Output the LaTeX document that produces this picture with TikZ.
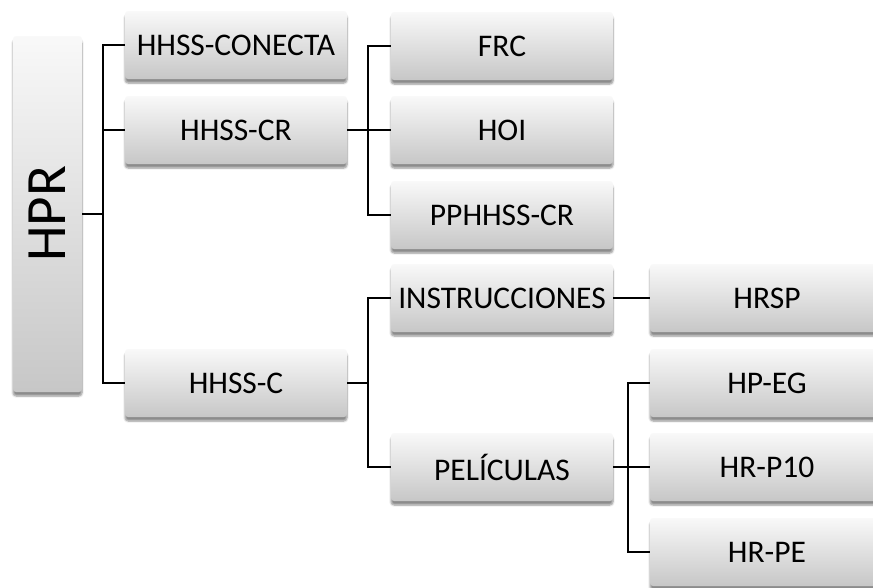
\documentclass[tikz,border=0pt]{standalone}
\usepackage{fontspec}
\setmainfont{Carlito}
\usetikzlibrary{shadows.blur}
\tikzset{
  box/.style={rectangle, rounded corners=3pt, top color=gray!5, bottom color=gray!44,
    draw=none, minimum height=68pt, inner sep=0pt, text=black,
    font=\fontsize{31.5}{36}\selectfont,
    blur shadow={shadow xshift=0pt, shadow yshift=-4pt, shadow blur steps=6, shadow opacity=45}},
  lvl/.style={box, minimum width=222pt, text width=222pt, align=center},
  leaf/.style={box, minimum width=234pt, text width=234pt, align=center},
  link/.style={draw=black, line width=1.7pt},
}
\begin{document}
\begin{tikzpicture}[x=1pt, y=-1pt]
  \useasboundingbox (0,0) rectangle (873,587);
  \clip (0,0) rectangle (873,587);

  % root
  \node[box, minimum width=69pt, minimum height=356pt] (hpr) at (47.5,214) {};
  \node[rotate=90, font=\fontsize{57}{60}\selectfont] (hprlabel) at (hpr.center) {HPR};

  % first level
  \node[lvl] (conecta) at (236,45)  {HHSS-CONECTA};
  \node[lvl] (cr)      at (236,130) {HHSS-CR};
  \node[lvl] (c)       at (236,383) {HHSS-C};

  % second level
  \node[lvl] (frc)   at (502,46)  {FRC};
  \node[lvl] (hoi)   at (502,130) {HOI};
  \node[lvl] (pph)   at (502,215) {PPHHSS-CR};
  \node[lvl] (instr) at (502,298) {INSTRUCCIONES};
  \node[lvl] (pel)   at (502,467) {PELÍCULAS};

  % third level
  \node[leaf] (hrsp) at (767,298) {HRSP};
  \node[leaf] (hpeg) at (767,383) {HP-EG};
  \node[leaf] (hrp)  at (767,467) {HR-P10};
  \node[leaf] (hrpe) at (767,552) {HR-PE};

  % bus junctions
  \coordinate (j0) at (103,214);
  \coordinate (j1) at (368,130);
  \coordinate (j2) at (368,383);
  \coordinate (j3) at (628,467);

  % connectors
  \draw[link] (hpr.east) -- (j0);
  \draw[link] (conecta.west) -| (j0);
  \draw[link] (cr.west) -| (j0);
  \draw[link] (c.west) -| (j0);

  \draw[link] (cr.east) -- (j1);
  \draw[link] (frc.west) -| (j1);
  \draw[link] (hoi.west) -| (j1);
  \draw[link] (pph.west) -| (j1);

  \draw[link] (c.east) -- (j2);
  \draw[link] (instr.west) -| (j2);
  \draw[link] (pel.west) -| (j2);

  \draw[link] (instr.east) -- (hrsp.west);

  \draw[link] (pel.east) -- (j3);
  \draw[link] (hpeg.west) -| (j3);
  \draw[link] (hrp.west) -| (j3);
  \draw[link] (hrpe.west) -| (j3);
\end{tikzpicture}
\end{document}
